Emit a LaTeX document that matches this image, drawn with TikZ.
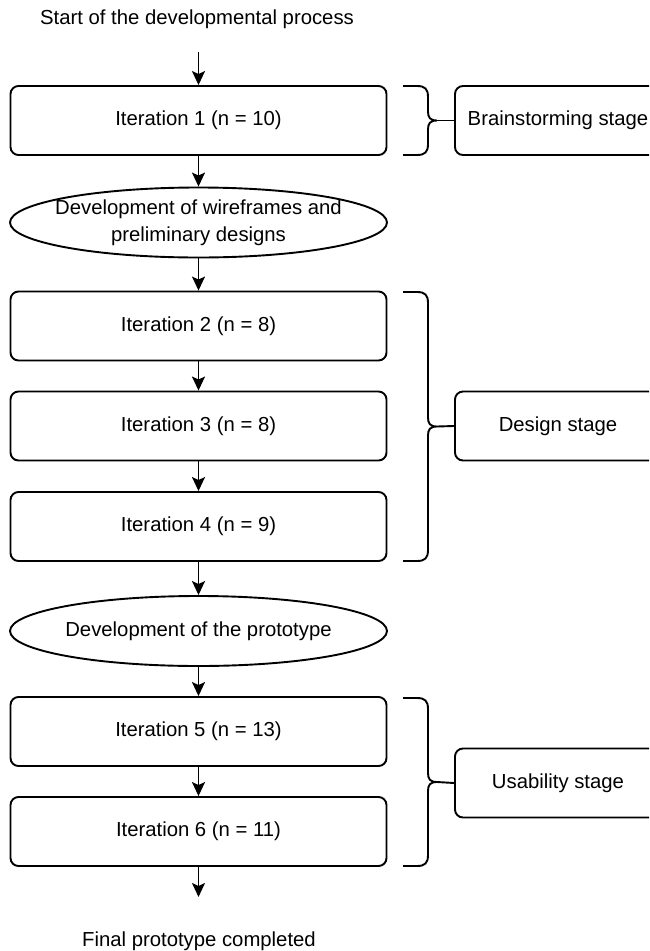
\documentclass[tikz,border=0pt]{standalone}
\usepackage{fontspec}
\setmainfont{Liberation Sans}
\usetikzlibrary{arrows.meta,shapes.geometric}
\tikzset{
  every node/.style={font=\fontsize{20.3}{27}\selectfont},
  proc/.style={draw, line width=1.9pt, rounded corners=8pt, minimum width=376pt, minimum height=69pt, inner sep=0pt, anchor=center},
  oval/.style={draw, line width=1.9pt, ellipse, minimum width=377pt, minimum height=70pt, inner xsep=-60pt, inner ysep=-15pt, align=center},
  stagebox/.style={draw, line width=1.9pt, rounded corners=8pt, minimum width=206pt, minimum height=69pt, inner sep=0pt},
  flow/.style={line width=1.9pt, -{Stealth[length=14pt,width=13pt,inset=3pt]}},
  bracepath/.style={line width=1.9pt},
  plain/.style={inner sep=0pt}
}
\begin{document}
\begin{tikzpicture}[x=1pt,y=-1pt]
\useasboundingbox (0,0) rectangle (649,951);
\clip (0,0) rectangle (649,951);
% texts
\node[plain] (start) at (197,19) {Start of the developmental process};
\node[plain] (final) at (199,941) {Final prototype completed};
\coordinate (starta) at (198.5,52);
\coordinate (endb) at (198.5,897);
% process boxes
\node[proc] (it1) at (198.5,120.5) {Iteration 1 (n = 10)};
\node[oval] (ov1) at (198.5,222.5) {Development of wireframes and\\preliminary designs};
\node[proc] (it2) at (198.5,326) {Iteration 2 (n = 8)};
\node[proc] (it3) at (198.5,426) {Iteration 3 (n = 8)};
\node[proc] (it4) at (198.5,526.5) {Iteration 4 (n = 9)};
\node[oval] (ov2) at (198.5,631) {Development of the prototype};
\node[proc] (it5) at (198.5,731.5) {Iteration 5 (n = 13)};
\node[proc] (it6) at (198.5,831.5) {Iteration 6 (n = 11)};
% stage boxes
\node[stagebox] (brain) at (558,120.5) {Brainstorming stage};
\node[stagebox] (design) at (558,426) {Design stage};
\node[stagebox] (usab) at (558,783) {Usability stage};
% arrows
\draw[flow] (starta) -- (it1.north);
\draw[flow] (it1.south) -- (ov1.north);
\draw[flow] (ov1.south) -- (it2.north);
\draw[flow] (it2.south) -- (it3.north);
\draw[flow] (it3.south) -- (it4.north);
\draw[flow] (it4.south) -- (ov2.north);
\draw[flow] (ov2.south) -- (it5.north);
\draw[flow] (it5.south) -- (it6.north);
\draw[flow] (it6.south) -- (endb);
% braces
\def\bracedraw#1#2#3{%
  \pgfmathsetmacro\bm{(#1+#2)/2}%
  \draw[bracepath] (403,#1) -- (417,#1) .. controls (425,#1) and (428,#1+3) .. (428,#1+11)
    -- (428,\bm-9) .. controls (428,\bm-3) and (430,\bm) .. (437,\bm)
    .. controls (430,\bm) and (428,\bm+3) .. (428,\bm+9)
    -- (428,#2-11) .. controls (428,#2-3) and (425,#2) .. (417,#2) -- (403,#2);
  \coordinate (#3) at (437,\bm);
}
\bracedraw{86}{155}{tip1}
\bracedraw{292}{561}{tip2}
\bracedraw{698}{866}{tip3}
\draw[bracepath] (tip1) -- (brain.west);
\draw[bracepath] (tip2) -- (design.west);
\draw[bracepath] (tip3) -- (usab.west);
\end{tikzpicture}
\end{document}
